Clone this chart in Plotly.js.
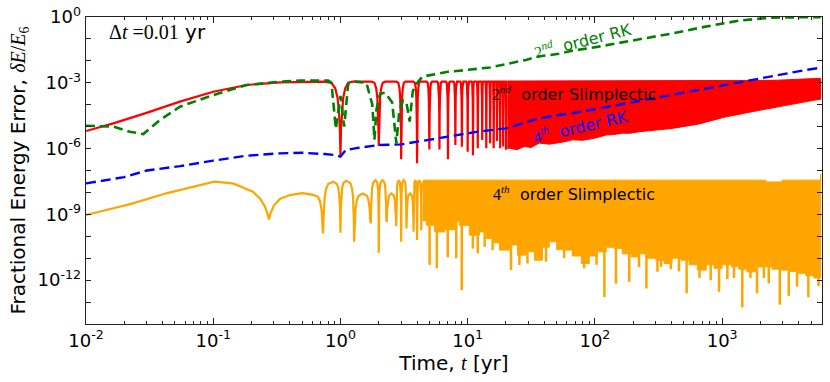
<!DOCTYPE html>
<html>
<head>
<meta charset="utf-8">
<script src="https://cdn.plot.ly/plotly-3.0.1.min.js"></script>
<style>html,body{margin:0;padding:0;background:#fff;}#chart{width:830px;height:382px;}</style>
</head>
<body>
<div id="chart"></div>
<script>
// ---------- data (values are log10 of fractional energy error) ----------
// 2nd order Slimplectic (red)
const redEarlyT   = [0.01, 0.0164, 0.0299, 0.0547, 0.1, 0.183, 0.334, 0.5];
const redEarlyLog = [-5.2, -4.85, -4.37, -3.86, -3.41, -3.1, -2.98, -2.95];
const redDipT   = [1, 2, 3, 4, 5, 6, 7, 8, 9, 10, 11, 12, 13, 14, 15, 16, 17, 18, 19, 20];
const redDipLog = [-6.34, -5.88, -6.49, -6.67, -6.04, -6.04, -6.49, -5.84, -5.92, -6.14,
                   -6.3, -5.99, -5.61, -5.99, -5.76, -5.99, -5.65, -5.99, -5.9, -6.05];
const redPeakLog = -2.95;
const redBandT    = [20.5, 21.3, 24.5, 27.9, 31.5, 36.5, 44, 52.5, 59, 66.4, 80, 95.3, 108, 122.7, 140, 164, 190, 222, 260, 302, 350, 404, 470, 550, 600, 658, 740, 832, 950, 1072, 1200, 1350, 1520, 1714, 1950, 2205, 2500, 2790, 3150, 3530, 4000, 4545, 5200, 5955];
const redBandHigh = [-2.92, -2.92, -2.92, -2.92, -2.92, -2.92, -2.92, -2.92, -2.92, -2.92, -2.92, -2.92, -2.92, -2.92, -2.92, -2.92, -2.92, -2.92, -2.92, -2.92, -2.92, -2.92, -2.92, -2.92, -2.92, -2.92, -2.92, -2.92, -2.92, -2.92, -2.92, -2.92, -2.92, -2.92, -2.91, -2.9, -2.89, -2.88, -2.86, -2.85, -2.84, -2.82, -2.81, -2.8];
const redBandLow  = [-6.0, -5.98, -6.05, -5.9, -5.95, -5.75, -5.8, -5.72, -5.68, -5.6, -5.62, -5.55, -5.47, -5.38, -5.36, -5.3, -5.3, -5.23, -5.2, -5.15, -5.12, -5.08, -5.02, -4.98, -4.92, -4.88, -4.8, -4.72, -4.62, -4.55, -4.5, -4.45, -4.38, -4.32, -4.26, -4.2, -4.14, -4.09, -4.03, -3.97, -3.92, -3.86, -3.8, -3.75];

// 4th order Slimplectic (orange)
const orEarlyT   = [0.01, 0.0234, 0.0427, 0.0794, 0.102, 0.143, 0.205, 0.235, 0.255, 0.268, 0.274, 0.282, 0.3, 0.334, 0.4, 0.5];
const orEarlyLog = [-9.03, -8.5, -8.04, -7.66, -7.51, -7.59, -7.97, -8.3, -8.65, -9.0, -9.23, -8.95, -8.6, -8.3, -8.12, -8.03];
// alternating peak / dip / peak ...
const orOscT   = [0.6, 0.73, 0.875, 1.0, 1.11, 1.28, 1.5, 1.73, 1.89, 2.0, 2.13, 2.3, 2.51, 2.75, 2.87, 3.0, 3.14, 3.3, 3.53, 3.76, 3.87, 4.0, 4.15, 4.32, 4.46];
const orOscLog = [-8.1, -9.87, -7.51, -9.84, -7.47, -10.25, -8.05, -9.41, -7.44, -10.75, -7.44, -9.34, -8.05, -9.49, -7.44, -10.25, -7.44, -9.64, -8.05, -9.79, -7.44, -10.17, -7.44, -9.72, -7.5];
const orBandT = [4.46, 4.75, 5.5, 6.6, 7.9, 8.6, 10.3, 12.4, 14, 15.7, 17.8, 21.3, 24.6, 28.7, 33.5, 38.7, 43.8, 50, 57.3, 66.4,
                 78.2, 90.3, 104.7, 122.7, 142, 164, 193, 222, 257, 302, 350, 404, 475, 550, 638, 750, 865, 1000, 1180, 1350,
                 1565, 1840, 2130, 2470, 2920, 3380, 3900, 4545, 5250, 5955];
const orBandLow = [-8.5, -9.3, -9.5, -9.8, -9.7, -9.3, -9.5, -9.95, -9.8, -10.1, -10.3, -10.63, -10.4, -10.86, -10.7, -11.09, -10.5, -10.25, -10.6, -10.63,
                   -10.9, -11.24, -10.9, -10.71, -10.5, -10.56, -10.8, -10.94, -10.8, -11.0, -11.1, -11.24, -11.0, -11.09, -11.3, -11.54, -11.3, -11.46, -11.3, -11.39,
                   -11.5, -11.62, -11.4, -11.39, -11.5, -11.54, -11.6, -11.69, -11.8, -11.9];
const orBandHighT   = [4.46, 2130, 2200, 2800, 2960, 5955];
const orBandHighLog = [-7.44, -7.44, -7.52, -7.52, -7.44, -7.16];
const orSpikeT   = [5.02, 5.72, 6.97, 8.13, 8.98, 10.98, 12.0, 13.6, 15.7, 21.9, 25.5, 29.5, 41.3, 57.3, 82.3, 103, 118.7, 146.4, 186.2, 222,
                    254, 310, 331, 395, 458, 526, 664, 813, 946, 1100, 1240, 1440, 1670, 1880, 2130, 2325, 2840, 3340, 3880, 4760, 5730];
const orSpikeLog = [-11.3, -11.46, -10.96, -11.0, -12.45, -10.56, -10.78, -10.48, -10.63, -11.54, -11.31, -11.24, -11.16, -11.0, -11.46, -11.3, -12.77, -12.16, -12.08, -11.4,
                    -12.38, -11.62, -11.4, -11.5, -11.6, -12.6, -11.9, -12.0, -12.53, -11.95, -11.9, -13.24, -11.9, -12.6, -11.9, -12.15, -13.12, -12.72, -12.3, -12.78, -12.27];

// 2nd order RK (green)
const greenT = [0.01, 0.0164, 0.0221, 0.0282, 0.038, 0.0547, 0.1, 0.183, 0.334, 0.48, 0.8, 0.85, 0.92, 1.0, 1.07,
                1.15, 1.3, 1.6, 1.78, 1.85, 1.92, 2.05, 2.25, 2.55, 2.75, 2.9, 3.1, 3.3, 3.5, 3.7, 3.9, 4.4, 5.2, 7.0, 8.6,
                15, 28.7, 36, 52, 66, 107, 222, 404, 740, 1350, 1840, 2470, 4500, 5955];
const greenLog = [-4.96, -5.0, -5.23, -5.34, -4.7, -4.09, -3.56, -3.1, -2.95, -2.9, -2.9, -3.0, -5.1, -3.6, -5.0,
                  -3.05, -2.95, -3.0, -4.0, -5.6, -4.2, -3.5, -3.45, -3.9, -5.76, -4.3, -3.8, -3.9, -4.77, -3.4, -3.1, -2.72, -2.64, -2.5, -2.45,
                  -2.3, -1.96, -1.8, -1.68, -1.54, -1.35, -1.02, -0.75, -0.44, -0.17, -0.09, -0.03, -0.01, -0.01];

// 4th order RK (blue)
const blueT = [0.01, 0.02, 0.03, 0.055, 0.1, 0.18, 0.33, 0.5, 0.75, 0.93, 1.0, 1.1, 1.4, 2.0, 3.0, 4.5, 7, 12, 20, 28.7,
               36.5, 52, 66.6, 120, 222, 404, 740, 1350, 2470, 4500, 5955];
const blueLog = [-7.59, -7.3, -7.0, -6.8, -6.55, -6.33, -6.22, -6.19, -6.25, -6.3, -6.37, -6.07, -5.96, -5.84, -5.81, -5.64, -5.45, -5.23, -5.08, -4.8,
                 -4.62, -4.47, -4.39, -4.12, -3.83, -3.53, -3.25, -2.98, -2.68, -2.42, -2.31];

// axis ticks
const xTickVals = [0.01, 0.1, 1, 10, 100, 1000];
const xTickText = ['10<sup>-2</sup>', '10<sup>-1</sup>', '10<sup>0</sup>', '10<sup>1</sup>', '10<sup>2</sup>', '10<sup>3</sup>'];
const yTickExps = [0, -3, -6, -9, -12];
const yTickText = ['10<sup>0</sup>', '10<sup>-3</sup>', '10<sup>-6</sup>', '10<sup>-9</sup>', '10<sup>-12</sup>'];

// ---------- helpers ----------
const P = v => Math.pow(10, v);
// dip shoulders: [fraction of distance to neighbouring peak, drop below that peak]
const redProfile = [[0.5, 0.0], [0.3, 0.05], [0.18, 0.3], [0.1, 0.75], [0.05, 1.4], [0.02, 2.2]];
const orProfile  = [[0.5, 0.1], [0.3, 0.3], [0.15, 0.7], [0.07, 1.2], [0.03, 1.8]];
function buildOsc(ts, vs, prof) {
  const X = [], Y = [];
  for (let i = 0; i < ts.length; i++) {
    if (i % 2 === 0) { X.push(ts[i]); Y.push(vs[i]); continue; }
    const td = ts[i], vd = vs[i];
    const tl = ts[i - 1], vl = vs[i - 1], tr = ts[i + 1], vr = vs[i + 1];
    for (const [f, g] of prof) { X.push(td - f * (td - tl)); Y.push(Math.max(vd, vl - g)); }
    X.push(td); Y.push(vd);
    for (let k = prof.length - 1; k >= 0; k--) { const [f, g] = prof[k]; X.push(td + f * (tr - td)); Y.push(Math.max(vd, vr - g)); }
  }
  return [X, Y];
}

// red oscillation sequence: peaks midway between dips
const redSeqT = [redEarlyT[redEarlyT.length - 1]], redSeqV = [redPeakLog];
for (let i = 0; i < redDipT.length; i++) {
  redSeqT.push(redDipT[i]); redSeqV.push(redDipLog[i]);
  const next = i + 1 < redDipT.length ? (redDipT[i] + redDipT[i + 1]) / 2 : redBandT[0];
  redSeqT.push(next); redSeqV.push(redPeakLog);
}
const [rOx, rOy] = buildOsc(redSeqT, redSeqV, redProfile);
const redX = redEarlyT.slice(0, -1).concat(rOx);
const redY = redEarlyLog.slice(0, -1).concat(rOy).map(P);

const [oOx, oOy] = buildOsc(orOscT, orOscLog, orProfile);
const orX = orEarlyT.concat(oOx);
const orY = orEarlyLog.concat(oOy).map(P);

function band(tHi, vHi, tLo, vLo) {
  return { x: tHi.concat(tLo.slice().reverse()), y: vHi.concat(vLo.slice().reverse()).map(P) };
}
const redBand = band(redBandT, redBandHigh, redBandT, redBandLow);
const orBand = band(orBandHighT, orBandHighLog, orBandT, orBandLow);

const spX = [], spY = [];
orSpikeT.forEach((t, i) => { spX.push(t, t, null); spY.push(P(-7.6), P(orSpikeLog[i]), null); });

const RED = '#ff0000', ORANGE = '#ffa500', GREEN = '#008000', BLUE = '#0000ff';
const traces = [
  { x: redBand.x, y: redBand.y, mode: 'lines', fill: 'toself', fillcolor: RED, line: { color: RED, width: 1 }, hoverinfo: 'skip' },
  { x: redX, y: redY, mode: 'lines', line: { color: RED, width: 2.2 } },
  { x: orBand.x, y: orBand.y, mode: 'lines', fill: 'toself', fillcolor: ORANGE, line: { color: ORANGE, width: 1, shape: 'hv' }, hoverinfo: 'skip' },
  { x: spX, y: spY, mode: 'lines', line: { color: ORANGE, width: 2.5 }, connectgaps: false },
  { x: orX, y: orY, mode: 'lines', line: { color: ORANGE, width: 2.2 } },
  { x: greenT, y: greenLog.map(P), mode: 'lines', line: { color: GREEN, width: 2.6, dash: '9px,5px' } },
  { x: blueT, y: blueLog.map(P), mode: 'lines', line: { color: BLUE, width: 2.4, dash: '10px,5px' } }
];

// minor ticks: x at 2..9 x decade, y at the unlabelled decades
const xMinor = [];
for (let e = -2; e <= 3; e++) for (let m = 2; m <= 9; m++) { const v = m * Math.pow(10, e); if (v < 6100) xMinor.push(v); }
const yMinor = [];
for (let e = -14; e <= 0; e++) if (!yTickExps.includes(e)) yMinor.push(Math.pow(10, e));

const SERIF = 'font-family:Liberation Serif';
const FONT = 'DejaVu Sans';
const W = 830, H = 382, L = 86, R = 8, T = 17, B = 58;
const pw = W - L - R, ph = H - T - B;
const px = x => (x - L) / pw, py = y => (H - B - y) / ph;

const annotations = [
  { x: px(107), y: py(32), xanchor: 'left', yanchor: 'middle',
    text: '<span style="' + SERIF + '">Δ<i>t</i> =0.01</span> yr', font: { size: 20, color: '#000' } },
  { x: px(582), y: py(40), xanchor: 'center', yanchor: 'middle', textangle: -14,
    text: '<span style="' + SERIF + '">2<sup><i>nd</i></sup></span>  order RK', font: { size: 16, color: GREEN } },
  { x: px(574), y: py(93), xanchor: 'center', yanchor: 'middle',
    text: '<span style="' + SERIF + '">2<sup><i>nd</i></sup></span>  order Slimplectic', font: { size: 16, color: '#000' } },
  { x: px(580), y: py(126), xanchor: 'center', yanchor: 'middle', textangle: -13,
    text: '<span style="' + SERIF + '">4<sup><i>th</i></sup></span>  order RK', font: { size: 16, color: BLUE } },
  { x: px(574), y: py(193), xanchor: 'center', yanchor: 'middle',
    text: '<span style="' + SERIF + '">4<sup><i>th</i></sup></span>  order Slimplectic', font: { size: 16, color: '#000' } }
].map(a => Object.assign({ xref: 'paper', yref: 'paper', showarrow: false }, a));

const axisCommon = {
  type: 'log', showgrid: false, zeroline: false, showline: true, linecolor: '#222', linewidth: 1.4,
  mirror: 'allticks', ticks: 'inside', tickcolor: '#222', tickwidth: 1, automargin: false,
  tickfont: { family: FONT, size: 18, color: '#000' }
};

const layout = {
  width: W, height: H, margin: { l: L, r: R, t: T, b: B },
  paper_bgcolor: '#fff', plot_bgcolor: '#fff', showlegend: false,
  font: { family: FONT, color: '#000' },
  xaxis: Object.assign({}, axisCommon, {
    range: [-2, 3.785], tickmode: 'array', tickvals: xTickVals, ticktext: xTickText, ticklen: 6,
    minor: { tickmode: 'array', tickvals: xMinor, ticks: 'inside', ticklen: 3, tickcolor: '#222', showgrid: false },
    title: { text: 'Time, <span style="' + SERIF + '"><i>t</i></span> [yr]', font: { family: FONT, size: 20, color: '#000' }, standoff: 4 }
  }),
  yaxis: Object.assign({}, axisCommon, {
    range: [-14, 0], tickmode: 'array', tickvals: yTickExps.map(P), ticktext: yTickText, ticklen: 5,
    minor: { tickmode: 'array', tickvals: yMinor, ticks: 'inside', ticklen: 5, tickcolor: '#222', showgrid: false },
    title: { text: 'Fractional Energy Error, <span style="' + SERIF + '"><i>δE</i>/<i>E</i><sub>6</sub></span>', font: { family: FONT, size: 20, color: '#000' }, standoff: 6 }
  }),
  annotations: annotations
};

Plotly.newPlot('chart', traces, layout, { staticPlot: true, displayModeBar: false });
</script>
</body>
</html>
